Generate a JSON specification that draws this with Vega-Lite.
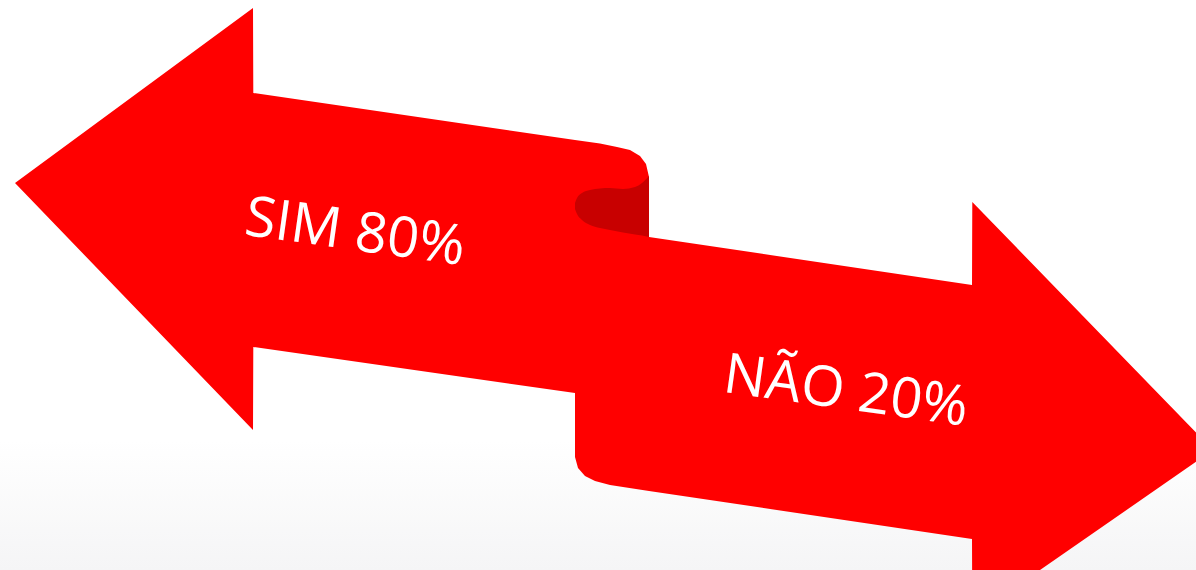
{
  "$schema": "https://vega.github.io/schema/vega-lite/v6.json",
  "width": 1196,
  "height": 570,
  "autosize": "none",
  "padding": 0,
  "background": "#ffffff",
  "config": {"view": {"stroke": null}},
  "datasets": {
    "shapes": [
      {"shape": "sim", "x": 15, "top": 183, "bot": 183},
      {"shape": "sim", "x": 253, "top": 8, "bot": 430},
      {"shape": "sim", "x": 253.3, "top": 93, "bot": 347},
      {"shape": "sim", "x": 575, "top": 140, "bot": 393},
      {"shape": "sim", "x": 600, "top": 143.5, "bot": 300},
      {"shape": "sim", "x": 617, "top": 147, "bot": 300},
      {"shape": "sim", "x": 630, "top": 150, "bot": 300},
      {"shape": "sim", "x": 640, "top": 156, "bot": 300},
      {"shape": "sim", "x": 646, "top": 164, "bot": 300},
      {"shape": "sim", "x": 649, "top": 177, "bot": 300},
      {"shape": "nao", "x": 575, "top": 205, "bot": 457},
      {"shape": "nao", "x": 578, "top": 205, "bot": 468},
      {"shape": "nao", "x": 585, "top": 205, "bot": 476},
      {"shape": "nao", "x": 595, "top": 205, "bot": 481},
      {"shape": "nao", "x": 610, "top": 205, "bot": 485},
      {"shape": "nao", "x": 649, "top": 237, "bot": 491},
      {"shape": "nao", "x": 972, "top": 285, "bot": 539},
      {"shape": "nao", "x": 972.3, "top": 202, "bot": 617},
      {"shape": "nao", "x": 1213, "top": 450, "bot": 450},
      {"shape": "curl", "x": 575, "top": 203, "bot": 209},
      {"shape": "curl", "x": 577, "top": 198, "bot": 214},
      {"shape": "curl", "x": 582, "top": 193, "bot": 220},
      {"shape": "curl", "x": 590, "top": 190, "bot": 225},
      {"shape": "curl", "x": 600, "top": 188.5, "bot": 228},
      {"shape": "curl", "x": 610, "top": 188, "bot": 230},
      {"shape": "curl", "x": 623, "top": 189, "bot": 232.5},
      {"shape": "curl", "x": 635, "top": 187, "bot": 234.5},
      {"shape": "curl", "x": 642, "top": 183, "bot": 235.5},
      {"shape": "curl", "x": 649, "top": 176, "bot": 237}
    ],
    "labels": [
      {"label": "SIM 80%", "x": 355, "y": 233},
      {"label": "NÃO 20%", "x": 846, "y": 392}
    ],
    "floor": [
      {"x": 0, "x2": 1196, "y": 440, "y2": 570}
    ]
  },
  "encoding": {
    "x": {"field": "x", "type": "quantitative", "scale": {"domain": [0, 1196], "nice": false, "zero": false}, "axis": null},
    "y": {"field": "y", "type": "quantitative", "scale": {"domain": [0, 570], "nice": false, "zero": false, "reverse": true}, "axis": null}
  },
  "layer": [
    {
      "data": {"name": "floor"},
      "mark": {
        "type": "rect",
        "color": {"gradient": "linear", "x1": 0, "y1": 0, "x2": 0, "y2": 1, "stops": [{"offset": 0, "color": "#ffffff"}, {"offset": 1, "color": "#f5f5f6"}]}
      },
      "encoding": {
        "x2": {"field": "x2"},
        "y2": {"field": "y2"}
      }
    },
    {
      "data": {"name": "shapes"},
      "transform": [{"filter": "datum.shape === 'sim'"}],
      "mark": {"type": "area", "orient": "vertical", "color": "#ff0000", "interpolate": "linear"},
      "encoding": {
        "y": {"field": "top", "type": "quantitative", "stack": null},
        "y2": {"field": "bot"}
      }
    },
    {
      "data": {"name": "shapes"},
      "transform": [{"filter": "datum.shape === 'nao'"}],
      "mark": {"type": "area", "orient": "vertical", "color": "#ff0000", "interpolate": "linear"},
      "encoding": {
        "y": {"field": "top", "type": "quantitative", "stack": null},
        "y2": {"field": "bot"}
      }
    },
    {
      "data": {"name": "shapes"},
      "transform": [{"filter": "datum.shape === 'curl'"}],
      "mark": {"type": "area", "orient": "vertical", "color": "#c80000", "interpolate": "monotone"},
      "encoding": {
        "y": {"field": "top", "type": "quantitative", "stack": null},
        "y2": {"field": "bot"}
      }
    },
    {
      "data": {"name": "labels"},
      "mark": {"type": "text", "font": "Open Sans", "fontSize": 56, "color": "#ffffff", "angle": 8, "align": "center", "baseline": "middle"},
      "encoding": {
        "text": {"field": "label"}
      }
    }
  ]
}
